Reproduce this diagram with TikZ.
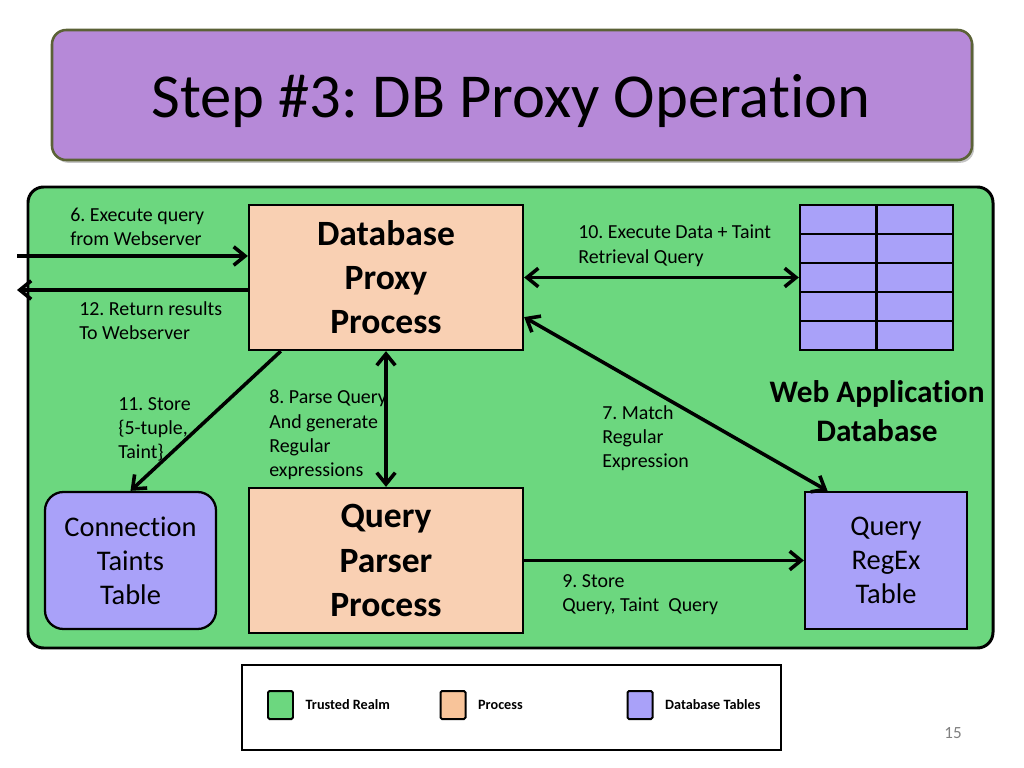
\documentclass[tikz,border=0pt]{standalone}
\usepackage{fontspec}
\setmainfont[Ligatures=NoCommon]{Carlito}
\usepackage{xcolor}
\usetikzlibrary{arrows.meta, positioning, shadows}
\newcommand{\px}{0.703125pt}
\frenchspacing
\definecolor{realmgreen}{HTML}{6CD77F}
\definecolor{procpeach}{HTML}{F9D0B3}
\definecolor{legpeach}{HTML}{F8C49A}
\definecolor{tablelav}{HTML}{A9A1F9}
\definecolor{titlepurple}{HTML}{B689D8}
\definecolor{titleedge}{HTML}{5B6236}
\tikzstyle{titlebox} = [rectangle, rounded corners=10pt, minimum width=920*\px, minimum height=130*\px, fill=titlepurple, draw=titleedge, line width=1.8pt, drop shadow={opacity=0.45, shadow xshift=1.5pt, shadow yshift=-2pt}]
\tikzstyle{realm}    = [fill=realmgreen, draw=black, line width=2.1pt, rounded corners=11pt]
\tikzstyle{process}  = [rectangle, draw=black, line width=1.6pt, fill=procpeach, minimum width=274*\px, minimum height=145*\px, inner sep=0pt, align=center, font=\fontsize{25}{31}\selectfont\bfseries]
\tikzstyle{dbtable}  = [rectangle, draw=black, line width=1.6pt, fill=tablelav, minimum width=162*\px, minimum height=137*\px, inner sep=0pt, align=center, font=\fontsize{20}{24}\selectfont]
\tikzstyle{note}     = [anchor=north west, align=left, inner sep=0pt, font=\fontsize{14}{17}\selectfont]
\tikzstyle{arrow}    = [line width=2.5pt, -{Straight Barb[length=8pt,width=13pt]}]
\tikzstyle{twoway}   = [line width=2.5pt, {Straight Barb[length=8pt,width=13pt]}-{Straight Barb[length=8pt,width=13pt]}]
\tikzstyle{swatch}   = [rectangle, draw=black, line width=1.4pt, rounded corners=1pt, minimum width=25*\px, minimum height=28*\px]
\tikzstyle{legtext}  = [inner sep=0pt, font=\fontsize{10}{12}\selectfont\bfseries]

\begin{document}
\begin{tikzpicture}[x=\px, y=-\px]
    \useasboundingbox[fill=white] (0,0) rectangle (1024,768);

    % title
    \node[titlebox] (titlebox) at (512,95) {};
    \node[font=\fontsize{44}{53}\selectfont] (title) at (511,101) {Step \#3: DB Proxy Operation};

    % trusted realm
    \draw[realm] (28,187) rectangle (993,648);

    \node[process] (proxy)  at (386,277.5) {Database\\Proxy\\Process};
    \node[process] (parser) at (386,560.5) {Query\\Parser\\Process};
    \node[dbtable, rounded corners=13pt, minimum width=171*\px] (conn) at (130.5,560.5) {Connection\\Taints\\Table};
    \node[dbtable] (regex)  at (886,560.5) {Query\\RegEx\\Table};

    % web application database
    \node[rectangle, fill=tablelav, draw=black, line width=1.6pt, minimum width=153*\px, minimum height=145*\px] (webdb) at (876.5,277.5) {};
    \foreach \r in {1,...,4}
        \draw[line width=1.6pt] (800,205+29*\r) -- (953,205+29*\r);
    \draw[line width=1.6pt] (webdb.north) -- (webdb.south);
    \node[align=center, font=\fontsize{22}{27}\selectfont\bfseries] (webdblabel) at (877,411) {Web Application\\Database};

    % connectors
    \coordinate (webin)  at (17,256);
    \coordinate (webout) at (17,290);
    \draw[arrow]  (webin) -- (webin -| proxy.west);
    \draw[arrow]  (webout -| proxy.west) -- (webout);
    \draw[twoway] (proxy.east) -- (webdb.west);
    \draw[twoway] (proxy.-16) -- (regex.130);
    \draw[twoway] (proxy.south) -- (parser.north);
    \draw[arrow]  (proxy.215) -- (conn.north);
    \draw[arrow]  (parser.east) -- (regex.west);

    \node[note] (lab6)  at (70,208)  {6. Execute query\\from Webserver};
    \node[note] (lab12) at (79,301)  {12. Return results\\To Webserver};
    \node[note] (lab10) at (578,225) {10. Execute Data + Taint\\Retrieval Query};
    \node[note] (lab8)  at (269,390) {8. Parse Query\\And generate\\Regular\\expressions};
    \node[note] (lab11) at (118,397) {11. Store\\\{5-tuple,\\Taint\}};
    \node[note] (lab7)  at (602,405) {7. Match\\Regular\\Expression};
    \node[note] (lab9)  at (562,574) {9. Store\\Query, Taint~~Query};

    % legend
    \node[rectangle, draw=black, line width=1.6pt, fill=white, minimum width=539*\px, minimum height=85*\px] (legend) at (511.5,707.5) {};
    \node[swatch, fill=realmgreen] (keyrealm) at (280.5,705) {};
    \node[legtext, right=8pt of keyrealm] (keyrealmtext) {Trusted Realm};
    \node[swatch, fill=legpeach] (keyproc) at (453,705) {};
    \node[legtext, right=8pt of keyproc] (keyproctext) {Process};
    \node[swatch, fill=tablelav] (keytable) at (640,705) {};
    \node[legtext, right=8pt of keytable] (keytabletext) {Database Tables};

    \node[font=\fontsize{12}{14}\selectfont, text=gray] (pagenum) at (953,733) {15};
\end{tikzpicture}
\end{document}
